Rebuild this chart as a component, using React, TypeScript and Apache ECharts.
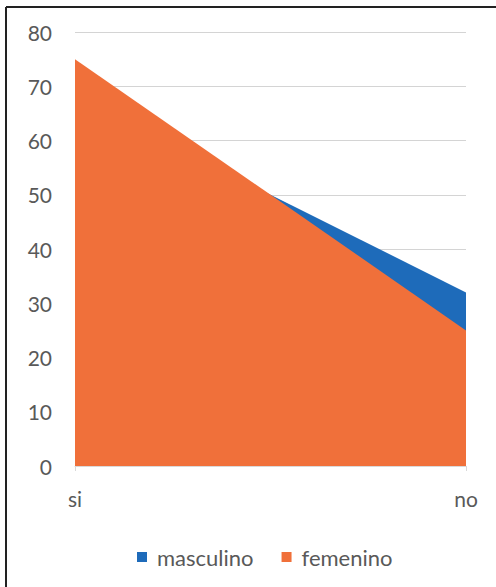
import React, { useEffect, useRef } from "react";
import * as echarts from "echarts";

const categories = ["si", "no"];
const masculino = [68, 32];
const femenino = [75, 25];
const seriesNames = ["masculino", "femenino"];

export default function App() {
  const ref = useRef<HTMLDivElement>(null);
  useEffect(() => {
    if (!ref.current) return;
    const chart = echarts.init(ref.current, undefined, { renderer: "svg" });
    const font = "Lato, 'Open Sans', sans-serif";
    chart.setOption({
      animation: false,
      backgroundColor: "#ffffff",
      textStyle: { fontFamily: font },
      grid: { left: 75, right: 30, top: 32, bottom: 121, containLabel: false },
      legend: {
        data: seriesNames,
        top: 541,
        left: 132,
        icon: "rect",
        itemWidth: 10,
        itemHeight: 10,
        itemGap: 28,
        textStyle: { fontSize: 22, color: "#595959", fontFamily: font, padding: [0, 0, 0, 5] },
      },
      xAxis: {
        type: "category",
        data: categories,
        boundaryGap: false,
        axisLine: { show: true, lineStyle: { color: "#d9d9d9", width: 1 } },
        axisTick: { show: true, length: 5, lineStyle: { color: "#d9d9d9" } },
        axisLabel: { fontSize: 21, color: "#595959", margin: 22, fontFamily: font },
        splitLine: { show: false },
      },
      yAxis: {
        type: "value",
        min: 0,
        max: 80,
        interval: 10,
        axisLine: { show: false },
        axisTick: { show: false },
        axisLabel: { fontSize: 21, color: "#595959", margin: 23, fontFamily: font },
        splitLine: { lineStyle: { color: "#d4d4d4", width: 1 } },
      },
      series: [
        {
          name: seriesNames[0],
          type: "line",
          data: masculino,
          symbol: "none",
          lineStyle: { width: 0 },
          areaStyle: { color: "#1E6BBA", opacity: 1 },
          itemStyle: { color: "#1E6BBA" },
          z: 2,
        },
        {
          name: seriesNames[1],
          type: "line",
          data: femenino,
          symbol: "none",
          lineStyle: { width: 0 },
          areaStyle: { color: "#F0703A", opacity: 1 },
          itemStyle: { color: "#F0703A" },
          z: 3,
        },
      ],
      graphic: [
        { type: "line", shape: { x1: 6, y1: 7, x2: 496, y2: 7 }, style: { stroke: "#222", lineWidth: 2 }, z: 100 },
        { type: "line", shape: { x1: 6, y1: 7, x2: 6, y2: 587 }, style: { stroke: "#222", lineWidth: 2 }, z: 100 },
      ],
    });
    return () => chart.dispose();
  }, []);
  return (
    <div style={{ position: "absolute", left: 0, top: 0, width: 496, height: 587 }}>
      <div ref={ref} style={{ width: 496, height: 587 }} />
    </div>
  );
}
